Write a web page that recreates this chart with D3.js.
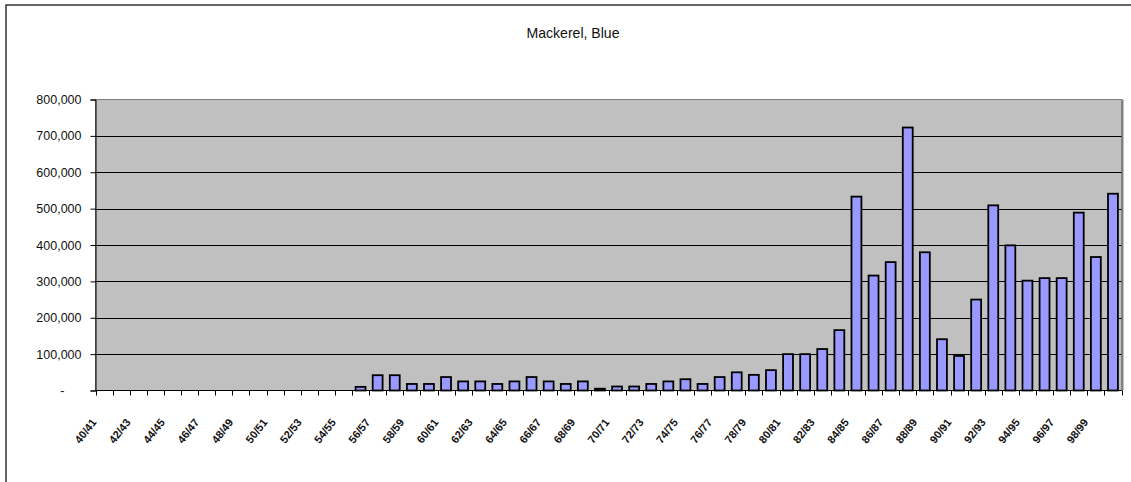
<!DOCTYPE html>
<html>
<head>
<meta charset="utf-8">
<script src="https://cdn.jsdelivr.net/npm/d3@7"></script>
<style>
  html, body { margin: 0; padding: 0; background: #fff; }
  svg { display: block; }
  .narrow { font-family: "Liberation Sans Narrow", "Arial Narrow", "Liberation Sans", Arial, sans-serif; }
</style>
</head>
<body>
<svg id="chart" width="1131" height="482"></svg>
<script>
// ---- data ----
const title = "Mackerel, Blue";
const categories = [
  "40/41","41/42","42/43","43/44","44/45","45/46","46/47","47/48","48/49","49/50",
  "50/51","51/52","52/53","53/54","54/55","55/56","56/57","57/58","58/59","59/60",
  "60/61","61/62","62/63","63/64","64/65","65/66","66/67","67/68","68/69","69/70",
  "70/71","71/72","72/73","73/74","74/75","75/76","76/77","77/78","78/79","79/80",
  "80/81","81/82","82/83","83/84","84/85","85/86","86/87","87/88","88/89","89/90",
  "90/91","91/92","92/93","93/94","94/95","95/96","96/97","97/98","98/99","99/00"
];
const values = [
  0, 0, 0, 0, 0, 0, 0, 0, 0, 0,
  0, 0, 0, 0, 0, 10000, 42000, 42000, 18000, 18000,
  37000, 25000, 25000, 18000, 25000, 37000, 25000, 18000, 25000, 5000,
  11000, 11000, 18000, 25000, 31000, 18000, 37000, 50000, 43000, 56000,
  100000, 100000, 114000, 166000, 533000, 316000, 353000, 723000, 380000, 141000,
  95000, 250000, 509000, 399000, 302000, 309000, 309000, 489000, 367000, 541000
];
const yTicks = [0, 100000, 200000, 300000, 400000, 500000, 600000, 700000, 800000];
const yTickLabels = ["-", "100,000", "200,000", "300,000", "400,000", "500,000", "600,000", "700,000", "800,000"];

// ---- layout ----
const svg = d3.select("#chart");
const plot = { left: 95.5, right: 1121.5, top: 99.5, bottom: 390.5 };

// outer frame (left and top edges visible)
svg.append("path")
  .attr("d", "M6,490 V5 H1140")
  .attr("fill", "none").attr("stroke", "#333").attr("stroke-width", 1.5);

svg.append("text").attr("class", "narrow")
  .attr("x", 573).attr("y", 38)
  .attr("text-anchor", "middle")
  .attr("font-size", 15).attr("fill", "#111")
  .attr("textLength", 93).attr("lengthAdjust", "spacingAndGlyphs")
  .text(title);

const x = d3.scaleBand().domain(categories)
  .range([plot.left, plot.right]).paddingInner(0.42).paddingOuter(0.21);
const y = d3.scaleLinear().domain([0, 800000]).range([plot.bottom, plot.top]);

// plot background
svg.append("rect")
  .attr("x", plot.left).attr("y", plot.top)
  .attr("width", plot.right - plot.left).attr("height", plot.bottom - plot.top)
  .attr("fill", "#c0c0c0").attr("stroke", "#808080").attr("stroke-width", 1);
svg.append("line")
  .attr("x1", plot.right + 1).attr("x2", plot.right + 1)
  .attr("y1", plot.top).attr("y2", plot.bottom)
  .attr("stroke", "#808080").attr("stroke-width", 2);

// gridlines
svg.append("g").selectAll("line")
  .data(yTicks.filter(d => d > 0 && d < 800000))
  .join("line")
  .attr("x1", plot.left).attr("x2", plot.right)
  .attr("y1", d => Math.round(y(d)) + 0.5).attr("y2", d => Math.round(y(d)) + 0.5)
  .attr("stroke", "#000").attr("stroke-width", 1);

// bars
svg.append("g").selectAll("rect")
  .data(categories.map((c, i) => ({ c, v: values[i] })).filter(d => d.v > 0))
  .join("rect")
  .attr("x", d => x(d.c))
  .attr("y", d => y(d.v))
  .attr("width", x.bandwidth())
  .attr("height", d => y(0) - y(d.v))
  .attr("fill", "#9999ff")
  .attr("stroke", "#000").attr("stroke-width", 1.8);

// y axis
const yAxis = d3.axisLeft(y).tickValues(yTicks).tickSize(5).tickPadding(9)
  .tickFormat((d, i) => yTickLabels[i]);
const gy = svg.append("g").attr("transform", `translate(${plot.left},0)`).call(yAxis);
gy.select(".domain").attr("stroke", "#000");
gy.selectAll(".tick line").attr("stroke", "#000");
gy.selectAll(".tick text").attr("class", "narrow").attr("font-size", 12.5).attr("fill", "#111");
gy.selectAll(".tick text").filter((d) => d === 0).attr("dx", -17);

// x axis: ticks between categories
const step = x.step();
const xAxisG = svg.append("g");
xAxisG.append("line")
  .attr("x1", plot.left).attr("x2", plot.right)
  .attr("y1", plot.bottom).attr("y2", plot.bottom)
  .attr("stroke", "#000");
xAxisG.selectAll("line.tk")
  .data(categories.concat(["__end"]))
  .join("line").attr("class", "tk")
  .attr("x1", (d, i) => Math.round(plot.left + i * step) + 0.5)
  .attr("x2", (d, i) => Math.round(plot.left + i * step) + 0.5)
  .attr("y1", plot.bottom).attr("y2", plot.bottom + 5)
  .attr("stroke", "#000");

// x labels every other category, rotated
xAxisG.selectAll("text")
  .data(categories.filter((d, i) => i % 2 === 0))
  .join("text")
  .attr("class", "narrow")
  .attr("font-size", 11).attr("font-weight", "bold").attr("fill", "#111")
  .attr("text-anchor", "end")
  .attr("transform", d => `translate(${x(d) + x.bandwidth() / 2 - 7},${plot.bottom + 32}) rotate(-52)`)
  .text(d => d);
</script>
</body>
</html>
